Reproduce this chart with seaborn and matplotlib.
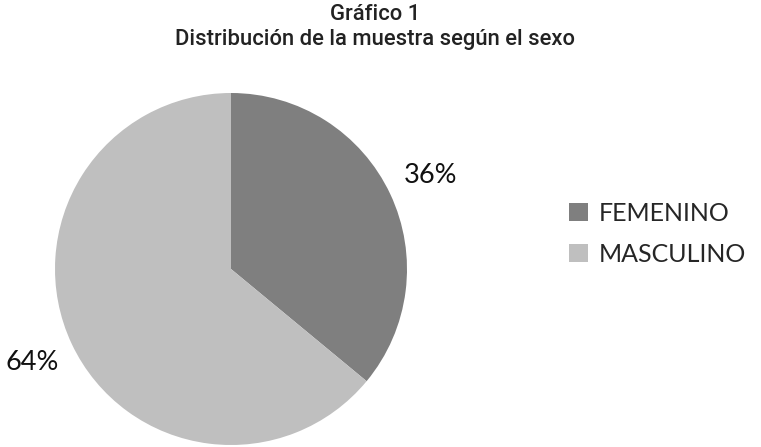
import matplotlib.pyplot as plt
import seaborn as sns

# datos del gráfico
categorias = ['FEMENINO', 'MASCULINO']
porcentajes = [36, 64]
colores = ['#7f7f7f', '#bfbfbf']

sns.set_theme(style="white")
fuente = 'Lato'

fig = plt.figure(figsize=(7.61, 4.47), dpi=100)
W, H = 761, 447
ax = fig.add_axes([55 / W, 2 / H, 352 / W, 352 / H])

wedges, _, textos = ax.pie(
    porcentajes,
    colors=colores,
    startangle=90,
    counterclock=False,
    autopct='%d%%',
    pctdistance=1.25,
    textprops={'fontsize': 19.5, 'family': fuente, 'color': '#111111'},
    wedgeprops={'linewidth': 0},
)
ax.set_xlim(-1, 1)
ax.set_ylim(-1, 1)
ax.set_aspect('equal')
ax.axis('off')

fig.text(375 / W, 1 - 14 / H, 'Gráfico 1', ha='center', va='center',
         fontsize=15.8, family='Roboto', weight='medium', color='#222222')
fig.text(375 / W, 1 - 40 / H, 'Distribución de la muestra según el sexo', ha='center',
         va='center', fontsize=15.8, family='Roboto', weight='medium', color='#222222')

fig.legend(wedges, categorias, loc='center left', bbox_to_anchor=(559 / W, 1 - 234 / H),
           frameon=False, prop={'family': fuente, 'size': 18}, handlelength=0.75,
           handleheight=0.75, handletextpad=0.45, labelspacing=0.72, borderaxespad=0)

fig.savefig('out.png', dpi=100)
